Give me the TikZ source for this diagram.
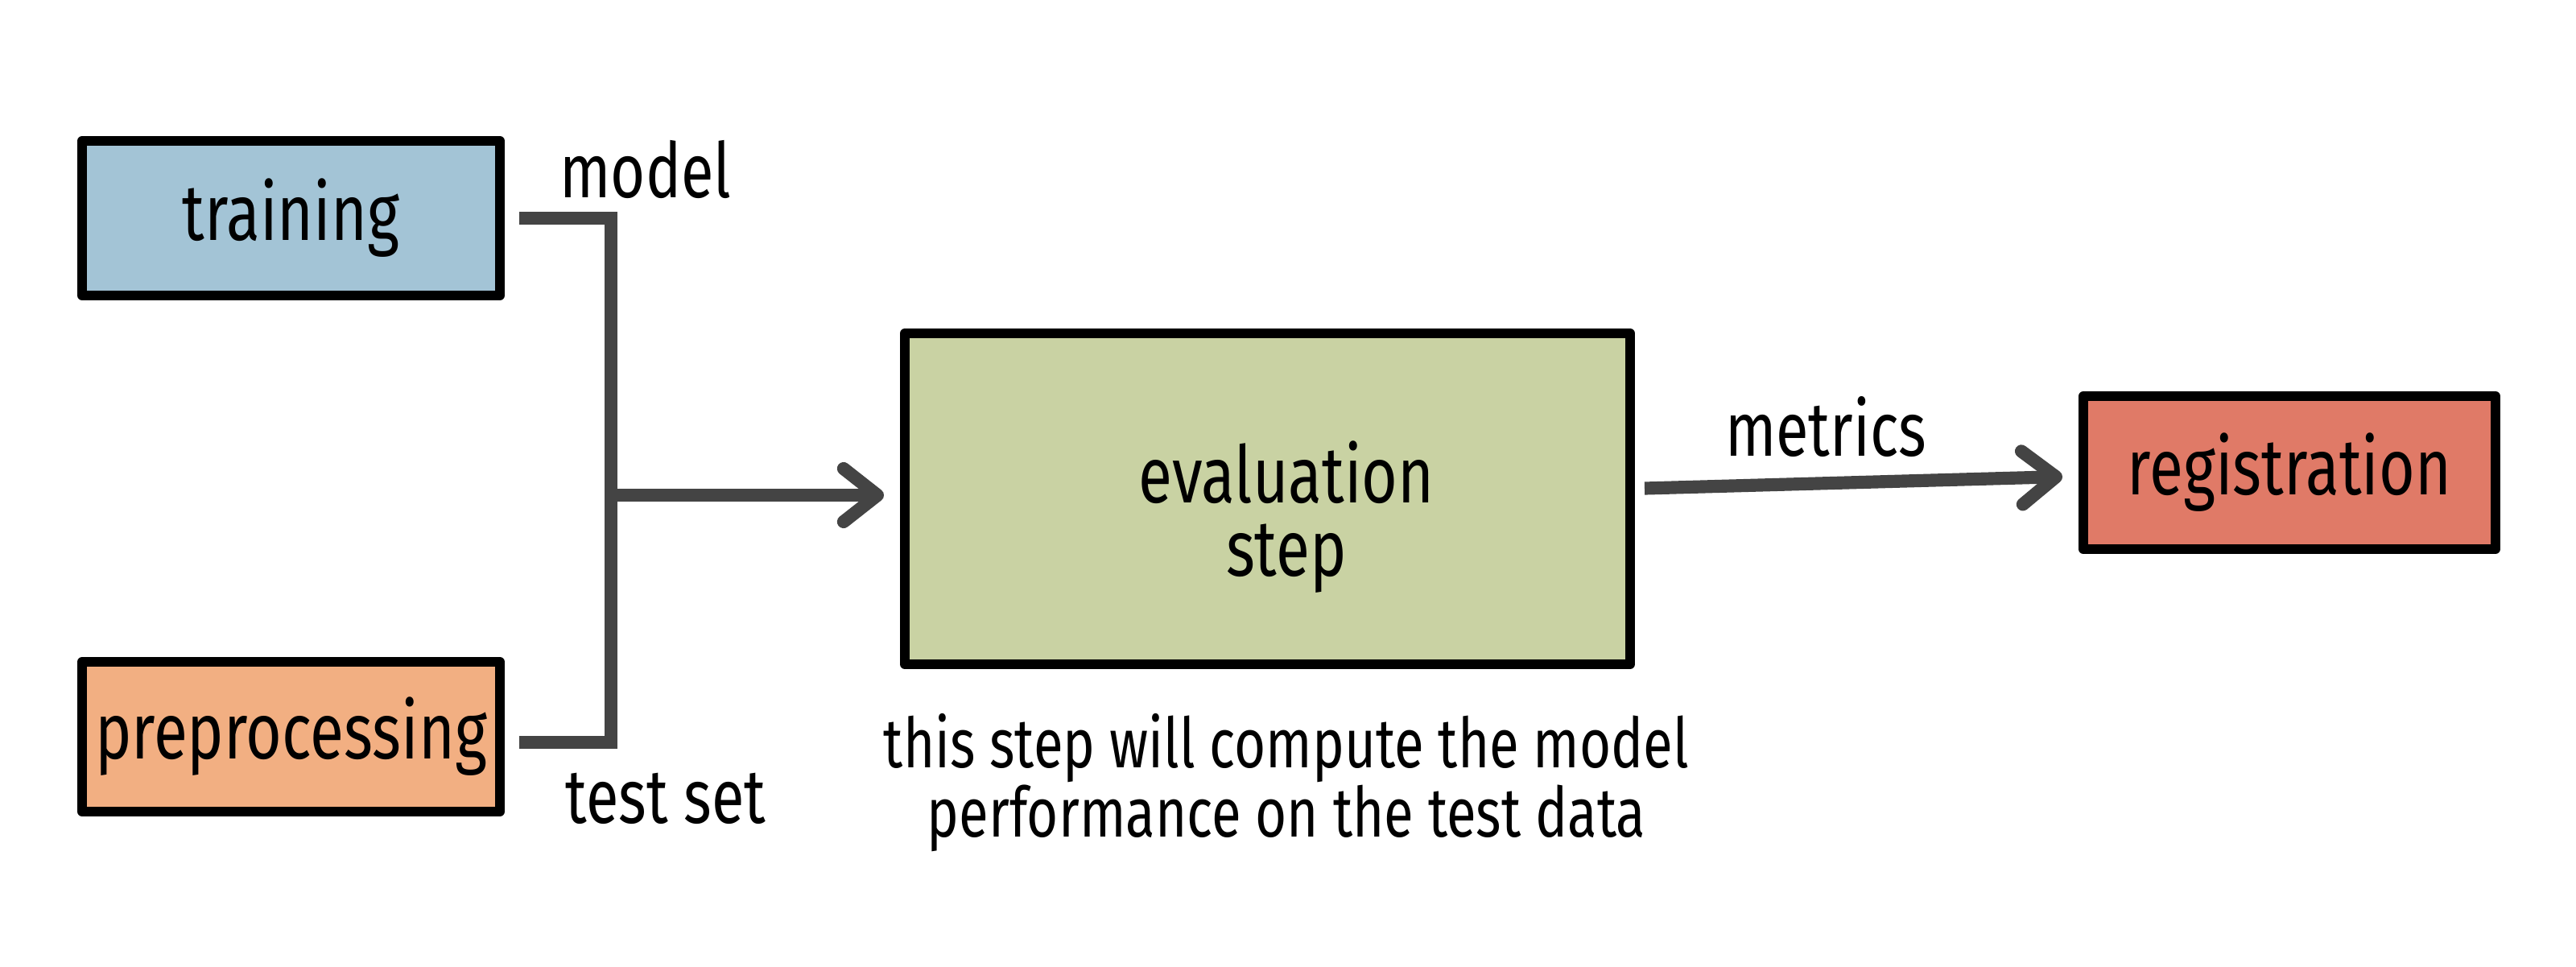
\documentclass[tikz,border=0pt]{standalone}
\usepackage{fontspec}
\setmainfont{Fira Sans}[FakeStretch=0.78]
\usetikzlibrary{arrows.meta}
\definecolor{trainblue}{HTML}{A3C4D6}
\definecolor{prepor}{HTML}{F2AF82}
\definecolor{evalgr}{HTML}{C9D2A3}
\definecolor{regred}{HTML}{E07A67}
\definecolor{conngray}{HTML}{444444}
\tikzset{
  box/.style={draw=black, line width=3.4pt, line join=round, inner sep=0pt},
  boxtxt/.style={font=\fontsize{28}{26}\selectfont, align=center},
  conn/.style={draw=conngray, line width=4.6pt, line join=miter},
  chev/.style={-{Straight Barb[length=0.42cm, width=0.66cm, line width=4.6pt, round]}},
  lbl/.style={font=\fontsize{27}{22}\selectfont, align=center, inner sep=0pt}
}
\begin{document}
\begin{tikzpicture}
\useasboundingbox (0,0) rectangle (32,-12);
\fill[white] (0,0) rectangle (32,-12);
% boxes
\node[box, fill=trainblue, minimum width=5.19cm, minimum height=1.92cm, boxtxt] (train) at (3.615,-2.71) {training};
\node[box, fill=prepor, minimum width=5.19cm, minimum height=1.86cm, boxtxt] (prep) at (3.615,-9.15) {preprocessing};
\node[box, fill=evalgr, minimum width=9.01cm, minimum height=4.11cm] (eval) at (15.745,-6.195) {};
\node[boxtxt, inner sep=0pt] (evaltxt) at (15.98,-6.42) {evaluation\\step};
\node[box, fill=regred, minimum width=5.12cm, minimum height=1.90cm, boxtxt] (reg) at (28.44,-5.87) {registration};
% connectors
\coordinate (j) at (7.59,-6.15);
\draw[conn] ([xshift=0.18cm]train.east) -| (j) |- ([xshift=0.18cm,yshift=-0.07cm]prep.east);
\draw[conn, chev] (j) -- ([xshift=-0.2cm]eval.west |- j);
\draw[conn, chev] ([xshift=0.12cm,yshift=0.13cm]eval.east) -- ([xshift=-0.2cm,yshift=-0.05cm]reg.west);
% labels
\node[lbl] (lmodel) at (8.02,-2.10) {model};
\node[lbl] (ltest) at (8.27,-9.92) {test set};
\node[lbl] (lmet) at (22.68,-5.30) {metrics};
\node[lbl, font=\fontsize{24.5}{21.5}\selectfont] (lcap) at (15.98,-9.72) {this step will compute the model\\performance on the test data};
\end{tikzpicture}
\end{document}
